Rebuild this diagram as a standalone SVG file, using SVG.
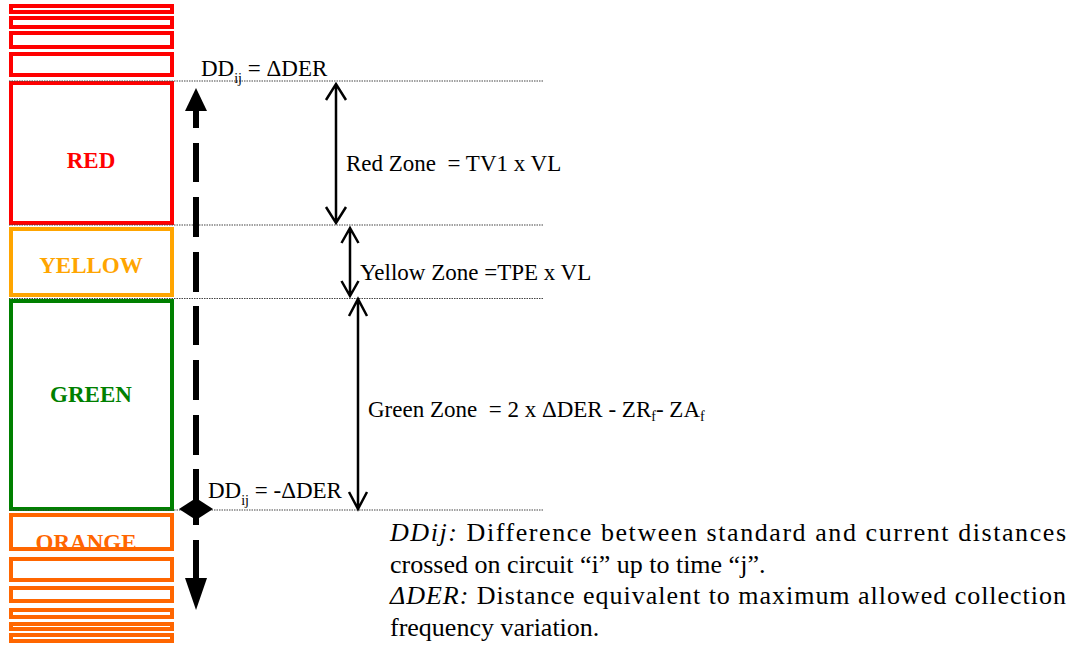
<svg xmlns="http://www.w3.org/2000/svg" width="1071" height="645" viewBox="0 0 1071 645">
<style>
  text { font-family: "Liberation Serif", "Times New Roman", serif; white-space: pre; }
  .box { fill: none; stroke-width: 4; }
  .r { stroke: #FF0000; }
  .y { stroke: #FFA500; }
  .g { stroke: #008000; }
  .o { stroke: #FF6600; }
  .zone { font-size: 23px; font-weight: bold; text-anchor: middle; }
  .lbl { font-size: 23px; fill: #000; }
  .para { font-size: 26px; fill: #000; }
  .dot { stroke: #444; stroke-width: 1.2; stroke-dasharray: 1.5 1; fill: none; }
  .dbl { stroke: #000; stroke-width: 2.5; fill: none; }
  .dash { stroke: #000; stroke-width: 6; fill: none; }
</style>
<g id="red-stack">
  <rect class="box r" x="11" y="6" width="161" height="6"/>
  <rect class="box r" x="11" y="18" width="161" height="9"/>
  <rect class="box r" x="11" y="33" width="161" height="14"/>
  <rect class="box r" x="11" y="54" width="161" height="21"/>
</g>
<g id="red">
  <rect class="box r" x="11" y="83" width="161" height="140"/>
  <text class="zone" x="91" y="168" fill="#FF0000">RED</text>
</g>
<g id="yellow">
  <rect class="box y" x="11" y="229" width="161" height="66"/>
  <text class="zone" x="91" y="273" fill="#FFA500">YELLOW</text>
</g>
<g id="green">
  <rect class="box g" x="11" y="301" width="161" height="208"/>
  <text class="zone" x="91" y="402" fill="#008000">GREEN</text>
</g>
<g id="orange">
  <text class="zone" x="86" y="550" fill="#FF6600">ORANGE</text>
  <rect class="box o" x="11" y="515" width="161" height="34"/>
</g>
<g id="orange-stack">
  <rect class="box o" x="11" y="559" width="161" height="21"/>
  <rect class="box o" x="11" y="588" width="161" height="13"/>
  <rect class="box o" x="11" y="610" width="161" height="7"/>
  <rect class="box o" x="11" y="624" width="161" height="5"/>
  <rect class="box o" x="11" y="635" width="161" height="6"/>
</g>
<g id="connectors">
  <line class="dot" x1="9" y1="81" x2="543" y2="81"/>
  <line class="dot" x1="9" y1="225" x2="543" y2="225"/>
  <line class="dot" x1="9" y1="298.5" x2="543" y2="298.5"/>
  <line class="dot" x1="9" y1="510" x2="543" y2="510"/>
  <path class="dash" d="M196 111V128M196 143V182M196 197V237M196 252V292M196 306V345M196 360V400M196 415V455M196 469V525M196 540V580"/>
  <polygon points="196,88 207,111 185,111" fill="#000"/>
  <polygon points="196,610 207,578 185,578" fill="#000"/>
  <polygon points="179,509 196,498 213,509 196,520" fill="#000"/>
  <path class="dbl" d="M336 84V223M326 100L336 84L346 100M326 207L336 223L346 207"/>
  <path class="dbl" d="M350 228V296M341.5 243L350 228L358.5 243M341.5 281L350 296L358.5 281"/>
  <path class="dbl" d="M358 299V509M349 316L358 299L367 316M349 492L358 509L367 492"/>
</g>
<g id="labels">
  <text class="lbl" x="201" y="76">DD<tspan font-size="14" dy="7">ij</tspan><tspan dy="-7"> = ΔDER</tspan></text>
  <text class="lbl" x="346" y="171">Red Zone  = TV1 x VL</text>
  <text class="lbl" x="360" y="280">Yellow Zone =TPE x VL</text>
  <text class="lbl" x="368" y="417">Green Zone  = 2 x ΔDER - ZR<tspan font-size="14" dy="4">f</tspan><tspan dy="-4">- ZA</tspan><tspan font-size="14" dy="4">f</tspan></text>
  <text class="lbl" x="208" y="498">DD<tspan font-size="14" dy="7">ij</tspan><tspan dy="-7"> = -ΔDER</tspan></text>
</g>
<g id="legend">
  <text class="para" x="390" y="541" textLength="676" lengthAdjust="spacing"><tspan font-style="italic">DDij:</tspan> Difference between standard and current distances</text>
  <text class="para" x="390" y="573">crossed on circuit “i” up to time “j”.</text>
  <text class="para" x="390" y="604" textLength="676" lengthAdjust="spacing"><tspan font-style="italic">ΔDER:</tspan> Distance equivalent to maximum allowed collection</text>
  <text class="para" x="390" y="636">frequency variation.</text>
</g>
</svg>
